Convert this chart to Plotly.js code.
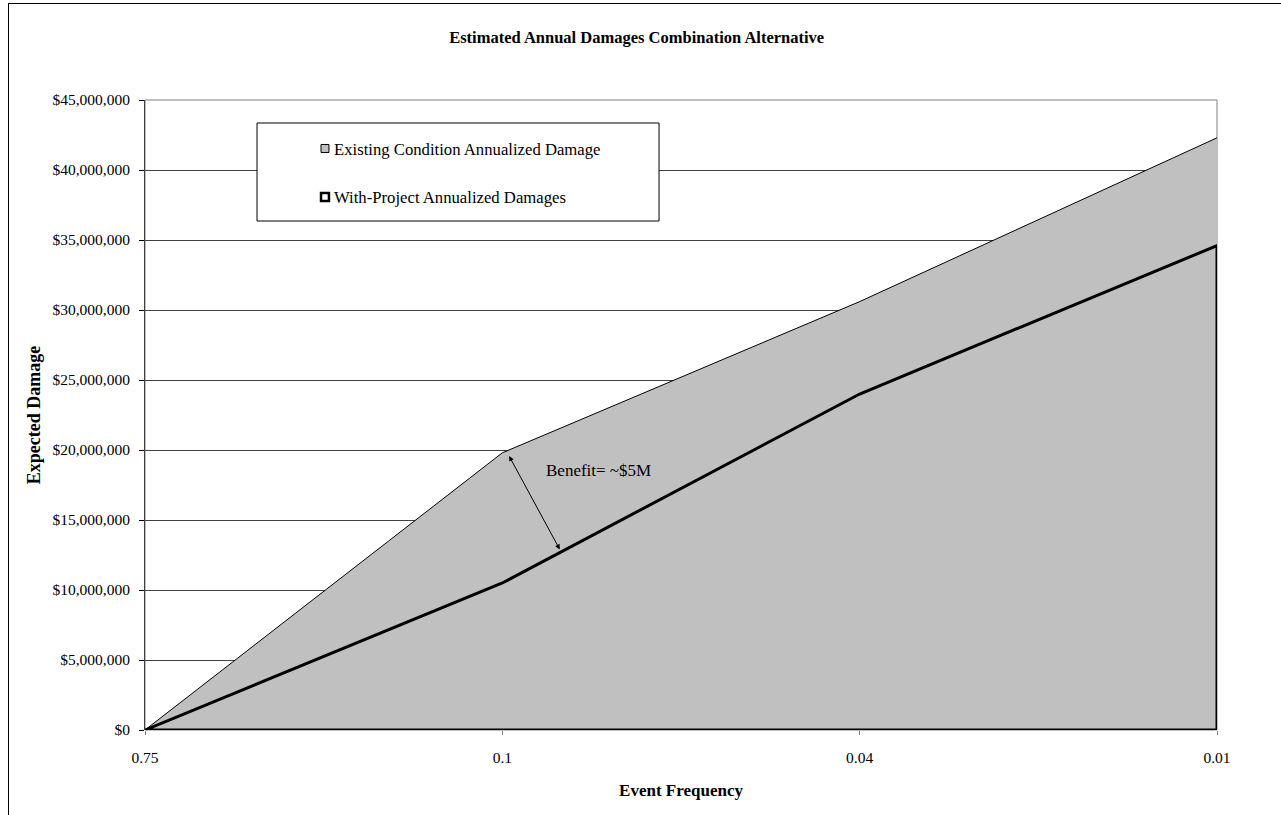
<!DOCTYPE html>
<html>
<head>
<meta charset="utf-8">
<script src="https://cdn.plot.ly/plotly-3.0.1.min.js"></script>
<style>
  html, body { margin: 0; padding: 0; background: #fff; }
  #wrap { position: relative; width: 1281px; height: 815px; overflow: hidden; }
  #chart { position: absolute; left: 0; top: 0; width: 1281px; height: 815px; }
  #frame { position: absolute; left: 8px; top: 3px; width: 1280px; height: 830px;
           border: 1px solid #000; box-sizing: border-box; pointer-events: none; }
</style>
</head>
<body>
<div id="wrap">
  <div id="chart"></div>
  <div id="frame"></div>
</div>
<script>
// Event frequencies (category axis, left to right)
const frequencies = ['0.75', '0.1', '0.04', '0.01'];
// Expected damage in dollars
const existingDamage = [0, 19800000, 30600000, 42300000];
const withProjectDamage = [0, 10500000, 24000000, 34600000];

const seriesNames = ['Existing Condition Annualized Damage', 'With-Project Annualized Damages'];
const yTicks = [0, 5000000, 10000000, 15000000, 20000000, 25000000, 30000000, 35000000, 40000000, 45000000];

const serif = 'Liberation Serif, Times New Roman, serif';

// Existing condition: grey area with a thin outline
const existingTrace = {
  type: 'scatter', mode: 'lines', name: seriesNames[0],
  x: frequencies, y: existingDamage,
  fill: 'tozeroy', fillcolor: '#C0C0C0',
  line: { color: '#000', width: 1 },
  hoverinfo: 'skip'
};

// With-project: unfilled area outlined by a heavy black border (closed to the baseline)
const last = frequencies.length - 1;
const withProjectTrace = {
  type: 'scatter', mode: 'lines', name: seriesNames[1],
  x: frequencies.concat([frequencies[last], frequencies[0]]),
  y: withProjectDamage.concat([0, 0]),
  fill: 'toself', fillcolor: 'rgba(0,0,0,0)',
  line: { color: '#000', width: 3 },
  hoverinfo: 'skip'
};

const layout = {
  width: 1281, height: 815,
  margin: { l: 145, r: 64, t: 100, b: 85 },
  paper_bgcolor: '#fff', plot_bgcolor: '#fff',
  showlegend: false,
  font: { family: serif, color: '#000', size: 15.5 },
  title: {
    text: '<b>Estimated Annual Damages Combination Alternative</b>',
    font: { family: serif, size: 16.5, color: '#000' },
    x: 0.497, xref: 'container', xanchor: 'center',
    y: 1 - 37 / 815, yref: 'container', yanchor: 'middle'
  },
  xaxis: {
    type: 'category', categoryorder: 'array', categoryarray: frequencies,
    range: [0, frequencies.length - 1],
    showgrid: false, zeroline: false,
    showline: false,
    ticks: 'outside', ticklen: 4, tickcolor: '#808080', tickwidth: 1,
    ticklabelstandoff: 9,
    tickfont: { family: serif, size: 15.5, color: '#000' },
    title: { text: '<b>Event Frequency</b>', font: { family: serif, size: 17, color: '#000' }, standoff: 19 }
  },
  yaxis: {
    range: [0, 45000000],
    tickvals: yTicks,
    tickformat: '$,.0f',
    showgrid: true, gridcolor: '#404040', gridwidth: 1,
    zeroline: false,
    showline: true, linecolor: '#404040', linewidth: 1,
    ticks: 'outside', ticklen: 5, tickcolor: '#000', tickwidth: 1,
    ticklabelstandoff: 6,
    tickfont: { family: serif, size: 15.5, color: '#000' },
    title: { text: '<b>Expected Damage</b>', font: { family: serif, size: 18, color: '#000' }, standoff: 7 }
  },
  shapes: [
    // plot area border (top and right)
    { type: 'rect', xref: 'paper', yref: 'paper', x0: 0, x1: 1, y0: 0, y1: 1,
      line: { color: '#808080', width: 1 }, fillcolor: 'rgba(0,0,0,0)', layer: 'below' },
    // legend box
    { type: 'rect', xref: 'paper', yref: 'paper', x0: 0.1045, x1: 0.4795, y0: 0.8079, y1: 0.9635,
      line: { color: '#000', width: 1 }, fillcolor: '#fff', layer: 'above' },
    // legend key: existing condition
    { type: 'rect', xref: 'paper', yref: 'paper', x0: 0.1642, x1: 0.1716, y0: 0.9167, y1: 0.9294,
      line: { color: '#000', width: 1 }, fillcolor: '#C0C0C0', layer: 'above' },
    // legend key: with-project
    { type: 'rect', xref: 'paper', yref: 'paper', x0: 0.1642, x1: 0.1716, y0: 0.8397, y1: 0.8524,
      line: { color: '#000', width: 2.5 }, fillcolor: '#fff', layer: 'above' }
  ],
  annotations: [
    { xref: 'paper', yref: 'paper', x: 0.1745, y: 0.9222, xanchor: 'left', yanchor: 'middle',
      text: seriesNames[0], showarrow: false, font: { family: serif, size: 16.7, color: '#000' } },
    { xref: 'paper', yref: 'paper', x: 0.1745, y: 0.8460, xanchor: 'left', yanchor: 'middle',
      text: seriesNames[1], showarrow: false, font: { family: serif, size: 16.7, color: '#000' } },
    // double-headed benefit arrow between the two curves
    { xref: 'x', yref: 'y', x: 1.019, y: 19570000, axref: 'x', ayref: 'y', ax: 1.163, ay: 12790000,
      text: '', showarrow: true, arrowside: 'end+start', arrowhead: 2, arrowsize: 1, arrowwidth: 1,
      arrowcolor: '#000', standoff: 0, startstandoff: 0 },
    { xref: 'x', yref: 'y', x: 1.117, y: 18570000, xanchor: 'left', yanchor: 'middle',
      text: 'Benefit= ~$5M', showarrow: false, font: { family: serif, size: 17, color: '#000' } }
  ]
};

Plotly.newPlot('chart', [existingTrace, withProjectTrace], layout, { displayModeBar: false, staticPlot: true });
</script>
</body>
</html>
